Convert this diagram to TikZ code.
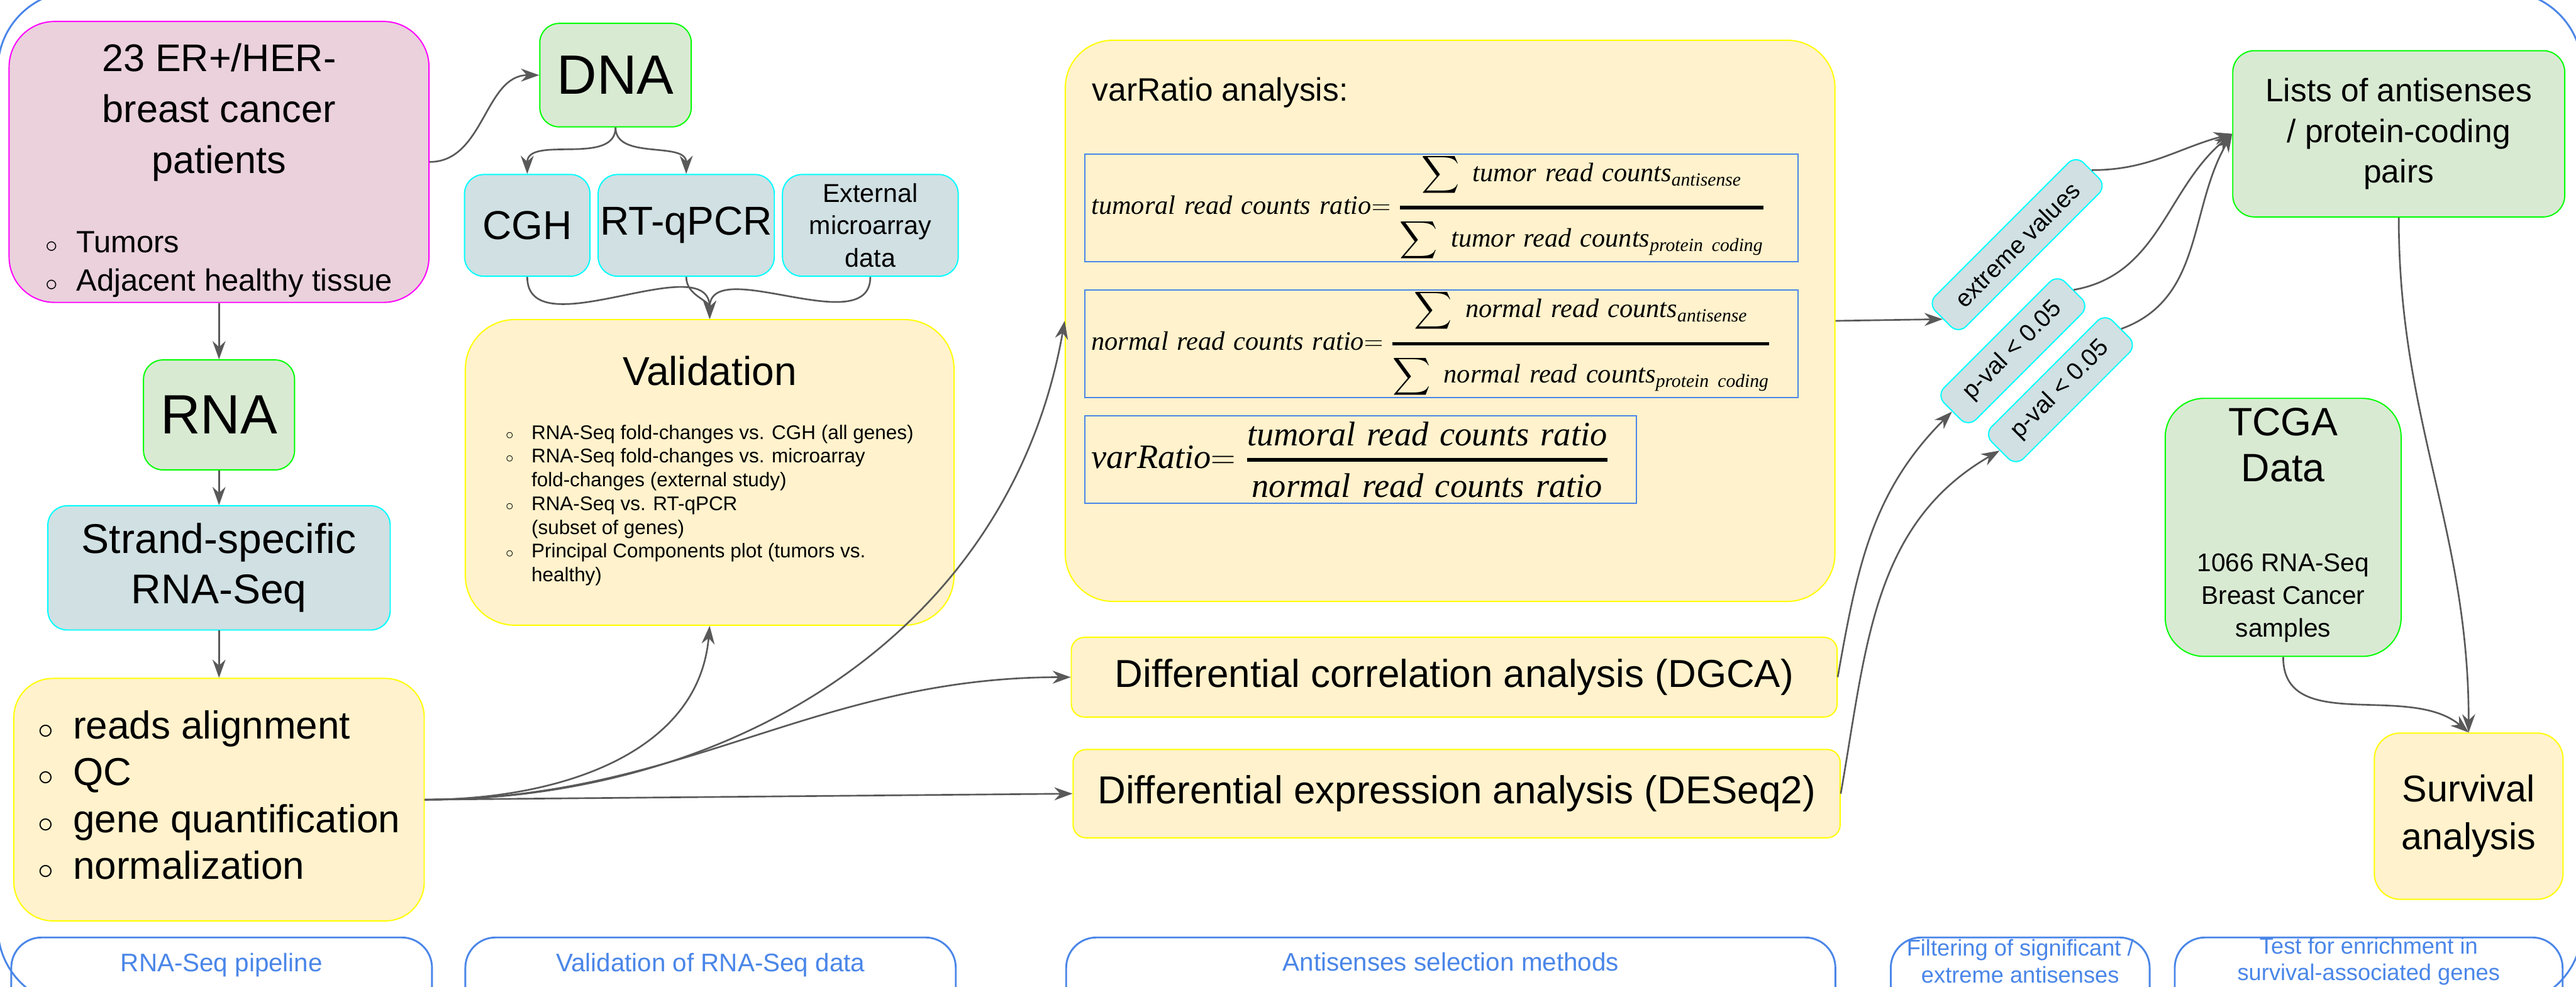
\RequirePackage{fix-cm}
\documentclass[tikz,border=0pt]{standalone}
\usepackage{fontspec}
\setmainfont{Liberation Sans}
\newfontfamily\formfont{Liberation Serif}
\usepackage{amsmath}
\usetikzlibrary{arrows.meta, positioning}

\definecolor{pinkfill}{HTML}{EAD1DC}
\definecolor{pinkline}{HTML}{FF00FF}
\definecolor{greenfill}{HTML}{D9EAD3}
\definecolor{greenline}{HTML}{00FF00}
\definecolor{tealfill}{HTML}{D0E0E3}
\definecolor{tealline}{HTML}{00FFFF}
\definecolor{yellowfill}{HTML}{FFF2CC}
\definecolor{yellowline}{HTML}{FFFF00}
\definecolor{tagblue}{HTML}{4A86E8}
\definecolor{linkgray}{HTML}{595959}

\newcommand{\bul}{\scalebox{0.8}{$\circ$}}
\newcommand{\fw}[1]{\text{\formfont\itshape #1}}
\newcommand{\bigsum}{\displaystyle\sum}

\begin{document}
\begin{tikzpicture}[node distance=1cm,
	box/.style={draw, rounded corners=0.45cm, line width=0.8pt, align=center, inner sep=0pt},
	pinkbox/.style={box, fill=pinkfill, draw=pinkline},
	greenbox/.style={box, fill=greenfill, draw=greenline},
	tealbox/.style={box, fill=tealfill, draw=tealline},
	yellowbox/.style={box, fill=yellowfill, draw=yellowline},
	formula/.style={draw=tagblue, line width=0.8pt, inner xsep=0.15cm, inner ysep=0pt, align=left, anchor=north west},
	tag/.style={draw=tagblue, line width=1.2pt, rounded corners=0.7cm, minimum height=2.4cm, anchor=north},
	tagtext/.style={text=tagblue, font=\fontsize{16.7}{17.6}\selectfont, align=center},
	arrow/.style={-{Stealth[length=0.42cm,width=0.3cm]}, line width=1.1pt, draw=linkgray}]

	\useasboundingbox (0,0) rectangle (59.51,-22.79);
	\clip (0,0) rectangle (59.51,-22.79);

	% outer frame
	\draw[tagblue, line width=1.2pt, rounded corners=1.8cm] (-0.05,0.2) rectangle (59.65,-23.22);

	% RNA-Seq pipeline
	\node[pinkbox, rounded corners=1.05cm, minimum width=9.7cm, minimum height=6.4cm, font=\fontsize{25.3}{33.5}\selectfont] (patients) at (5.06,-3.74)
		{\rule{0pt}{1.15cm}23 ER+/HER-\\breast cancer\\patients\\[0.65cm]
		 {\fontsize{20.2}{25.3}\selectfont\begin{tabular}[t]{@{}c@{\hspace{0.6em}}l@{}}\bul & Tumors\\ \bul & Adjacent healthy tissue\end{tabular}}};
	\node[greenbox, minimum width=3.49cm, minimum height=2.54cm, below=1.3cm of patients, font=\fontsize{36.4}{40}\selectfont] (rna) {RNA};
	\node[tealbox, minimum width=7.91cm, minimum height=2.87cm, below=0.8cm of rna, font=\fontsize{27.3}{33}\selectfont] (strand) {Strand-specific\\RNA-Seq};
	\node[yellowbox, rounded corners=0.9cm, minimum width=9.48cm, minimum height=5.6cm, below=1.09cm of strand] (reads)
		{\fontsize{25.6}{30.7}\selectfont\begin{tabular}{@{}c@{\hspace{0.5em}}l@{}}\bul & reads alignment\\ \bul & QC\\ \bul & gene quantification\\ \bul & normalization\end{tabular}};

	% validation
	\node[greenbox, minimum width=3.5cm, minimum height=2.39cm, font=\fontsize{36.4}{40}\selectfont] (dna) at (14.22,-1.735) {DNA};
	\node[tealbox, minimum width=2.9cm, minimum height=2.35cm, font=\fontsize{26.5}{30}\selectfont] (cgh) at (12.18,-5.205) {CGH};
	\node[tealbox, minimum width=4.07cm, minimum height=2.35cm, right=0.16cm of cgh, font=\fontsize{26.5}{30}\selectfont] (rtpcr) {RT-qPCR};
	\node[tealbox, minimum width=4.06cm, minimum height=2.35cm, right=0.16cm of rtpcr, font=\fontsize{17}{21.3}\selectfont] (micro) {External\\microarray\\data};
	\node[yellowbox, rounded corners=1.15cm, minimum width=11.29cm, minimum height=7.06cm, font=\fontsize{26.5}{32}\selectfont] (validation) at (16.395,-10.91)
		{Validation\\[0.12cm]
		 {\fontsize{13}{15.6}\selectfont\begin{tabular}[t]{@{}c@{\hspace{0.9em}}l@{}}
		 \bul & RNA-Seq fold-changes vs. CGH (all genes)\\
		 \bul & RNA-Seq fold-changes vs. microarray\\
		      & fold-changes (external study)\\
		 \bul & RNA-Seq vs. RT-qPCR\\
		      & (subset of genes)\\
		 \bul & Principal Components plot (tumors vs.\\
		      & healthy)
		 \end{tabular}}};

	% antisenses selection
	\node[yellowbox, rounded corners=1.1cm, minimum width=17.78cm, minimum height=12.96cm] (varratio) at (33.5,-7.41) {};
	\node[anchor=base west, font=\fontsize{21.3}{26}\selectfont] (vartitle) at (25.11,-2.33) {varRatio analysis:};
	\node[formula, text width=16.18cm, minimum height=2.08cm, font=\fontsize{17.5}{20}\selectfont] (tumform) at (25.05,-3.54)
		{\fw{tumoral read counts ratio}$=\genfrac{}{}{2.2pt}{0}{\bigsum\fw{ tumor read counts}_{\fw{antisense}}}{\bigsum\fw{ tumor read counts}_{\fw{protein coding}}}$};
	\node[formula, text width=16.18cm, minimum height=2.06cm, font=\fontsize{17.5}{20}\selectfont] (normform) at (25.05,-6.68)
		{\fw{normal read counts ratio}$=\genfrac{}{}{2.2pt}{0}{\bigsum\fw{ normal read counts}_{\fw{antisense}}}{\bigsum\fw{ normal read counts}_{\fw{protein coding}}}$};
	\node[formula, text width=12.44cm, minimum height=2.02cm, font=\fontsize{22.5}{25}\selectfont] (ratioform) at (25.05,-9.59)
		{\fw{varRatio}$=\genfrac{}{}{2.5pt}{0}{\fw{tumoral read counts ratio}}{\fw{normal read counts ratio}}$};
	\node[yellowbox, rounded corners=0.3cm, minimum width=17.69cm, minimum height=1.84cm, font=\fontsize{25.6}{30}\selectfont] (dgca) at (33.595,-15.64) {Differential correlation analysis (DGCA)};
	\node[yellowbox, rounded corners=0.3cm, minimum width=17.72cm, minimum height=2.04cm, font=\fontsize{25.6}{30}\selectfont] (deseq) at (33.65,-18.33) {Differential expression analysis (DESeq2)};

	% filtering
	\node[tealbox, rounded corners=0.25cm, rotate=45, minimum width=4.84cm, minimum height=1cm, font=\fontsize{16}{19}\selectfont] (extreme) at (46.6,-5.65) {extreme values};
	\node[tealbox, rounded corners=0.25cm, rotate=45, minimum width=3.95cm, minimum height=1.04cm, font=\fontsize{16}{19}\selectfont] (pvalcor) at (46.5,-8.1) {p-val < 0.05};
	\node[tealbox, rounded corners=0.25cm, rotate=45, minimum width=3.95cm, minimum height=1.04cm, font=\fontsize{16}{19}\selectfont] (pvalexp) at (47.6,-9.0) {p-val < 0.05};

	% survival
	\node[greenbox, rounded corners=0.5cm, minimum width=7.67cm, minimum height=3.84cm, font=\fontsize{21.3}{26.7}\selectfont] (lists) at (55.415,-3.09) {Lists of antisenses\\/ protein-coding\\pairs};
	\node[greenbox, rounded corners=0.9cm, minimum width=5.45cm, minimum height=5.96cm, font=\fontsize{26}{30.4}\selectfont] (tcga) at (52.745,-12.18)
		{TCGA\\Data\\[1.0cm]{\fontsize{16.8}{21.6}\selectfont\begin{tabular}[t]{@{}c@{}}1066 RNA-Seq\\Breast Cancer\\samples\end{tabular}}};
	\node[yellowbox, rounded corners=0.6cm, minimum width=4.36cm, minimum height=3.84cm, font=\fontsize{24.5}{31.3}\selectfont] (survival) at (57.03,-18.85) {Survival\\analysis};

	% section tags
	\node[tag, minimum width=9.72cm] (tagpipe) at (5.12,-21.63) {};
	\node[tag, minimum width=11.33cm] (tagvalid) at (16.415,-21.63) {};
	\node[tag, minimum width=17.77cm] (tagselect) at (33.515,-21.63) {};
	\node[tag, minimum width=5.98cm] (tagfilter) at (46.67,-21.63) {};
	\node[tag, minimum width=8.96cm] (tagsurv) at (54.72,-21.63) {};
	\node[tagtext, anchor=base] (pipetext) at (5.12,-22.44) {RNA-Seq pipeline};
	\node[tagtext, anchor=base] (validtext) at (16.415,-22.44) {Validation of RNA-Seq data};
	\node[tagtext, anchor=base] (selecttext) at (33.515,-22.43) {Antisenses selection methods};
	\node[tagtext, font=\fontsize{15}{17.6}\selectfont] (filtertext) at (46.67,-22.2) {Filtering of significant /\\extreme antisenses};
	\node[tagtext, font=\fontsize{15}{17.6}\selectfont] (survtext) at (54.72,-22.2) {Test for enrichment in\\survival-associated genes};

	% connectors
	\draw[arrow] (patients.east) to[out=0,in=180] (dna.west);
	\draw[arrow] (patients) -- (rna);
	\draw[arrow] (rna) -- (strand);
	\draw[arrow] (strand) -- (reads);
	\draw[arrow] (dna.south) to[out=-90,in=90] (cgh.north);
	\draw[arrow] (dna.south) to[out=-90,in=90] (rtpcr.north);
	\draw[arrow] (cgh.south) to[out=-90,in=90] (validation.north);
	\draw[arrow] (rtpcr.south) to[out=-90,in=90] (validation.north);
	\draw[arrow] (micro.south) to[out=-90,in=90] (validation.north);
	\draw[arrow] (reads.east) to[out=0,in=-95] (validation.south);
	\draw[arrow] (reads.east) to[out=0,in=-100] (varratio.west);
	\draw[arrow] (reads.east) to[out=0,in=180] (dgca.west);
	\draw[arrow] (reads.east) -- (deseq.west);
	\draw[arrow] (varratio.east) -- (extreme.west);
	\draw[arrow] (extreme.east) to[out=0,in=195] (lists.west);
	\draw[arrow] (pvalcor.east) to[out=10,in=-140] (lists.west);
	\draw[arrow] (pvalexp.east) to[out=20,in=-120] (lists.west);
	\draw[arrow] (dgca.east) to[out=80,in=-135] (pvalcor.west);
	\draw[arrow] (deseq.east) to[out=80,in=-150] (pvalexp.west);
	\draw[arrow] (lists.south) to[out=-90,in=90] (survival.north);
	\draw[arrow] (tcga.south) to[out=-90,in=140] (survival.north);
\end{tikzpicture}
\end{document}
